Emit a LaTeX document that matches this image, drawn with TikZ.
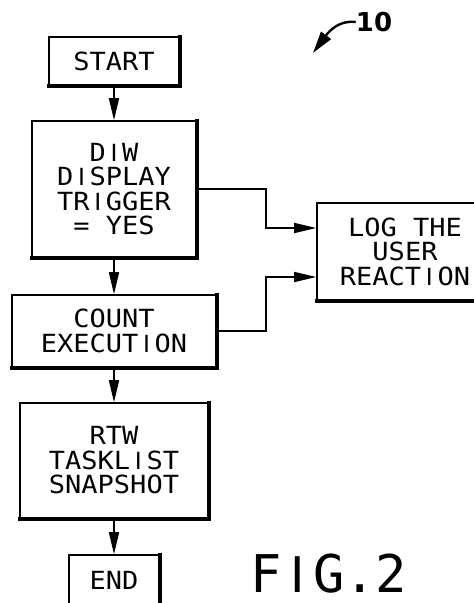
\documentclass[tikz,border=0pt]{standalone}
\usepackage{fontspec}
\usetikzlibrary{arrows.meta}
\newfontfamily\pfont{DejaVu Sans Mono}[FakeStretch=1.08]
\newfontfamily\figfont{DejaVu Sans Mono}
\newfontfamily\liberI{Liberation Sans}
\newfontfamily\boldsans{DejaVu Sans}[BoldFont={DejaVu Sans Bold}]
\newcommand\plainI{\makebox[0.65em]{\liberI I}}
\newcommand\figI{\makebox[0.602em]{\liberI I}}
\tikzset{
  box/.style={draw, line width=1.6pt, inner sep=0pt, align=center,
    font=\pfont\fontsize{25}{24.5}\selectfont},
  arr/.style={line width=1.6pt, -{Triangle[length=22pt,width=10pt]}},
  shadowedge/.style={line width=3.8pt},
}
\begin{document}
\begin{tikzpicture}[x=1pt,y=-1pt]
\useasboundingbox (0,0) rectangle (474,603);
\clip (0,0) rectangle (474,603);
\node[box, minimum width=130pt, minimum height=48pt] (start) at (114,61) {START};
\node[box, minimum width=164pt, minimum height=136pt] (diw) at (114,189)
  {D\plainI W\\D\plainI SPLAY\\TR\plainI GGER\\= YES};
\node[box, minimum width=204pt, minimum height=72pt] (count) at (114,331)
  {COUNT\\EXECUT\plainI ON};
\node[box, minimum width=188pt, minimum height=115pt] (rtw) at (114,460.5)
  {RTW\\TASKL\plainI ST\\SNAPSHOT};
\node[box, minimum width=90pt, minimum height=50pt] (end) at (114,580) {END};
\node[box, minimum width=176pt, minimum height=97pt] (log) at (405,251.5)
  {LOG THE\\USER\\REACT\plainI ON};
\foreach \n in {start,diw,count,rtw,end,log}{
  \draw[shadowedge] ([yshift=1.5pt]\n.north east) -- (\n.south east) -- ([xshift=-1.5pt]\n.south west);
}
\coordinate (l1) at (0,228);
\coordinate (l2) at (0,277);
\draw[arr] (start) -- (diw);
\draw[arr] (diw) -- (count);
\draw[arr] (count) -- (rtw);
\draw[arr] (rtw) -- (end);
\draw[arr] (diw.east) -- ++(69,0) |- (log.west |- l1);
\draw[arr] (count.east) -- ++(49,0) |- (log.west |- l2);
\node[font=\boldsans\bfseries\fontsize{26}{26}\selectfont, inner sep=0pt] (ref) at (374,22) {10};
\draw[line width=2.4pt, -{Triangle[length=22pt,width=12pt]}] (ref.west) .. controls (340,20) and (330,30) .. (313,53);
\node[font=\figfont\fontsize{52}{52}\selectfont, inner sep=0pt, anchor=base] (fig) at (329,592) {F\figI G.2};
\end{tikzpicture}
\end{document}
